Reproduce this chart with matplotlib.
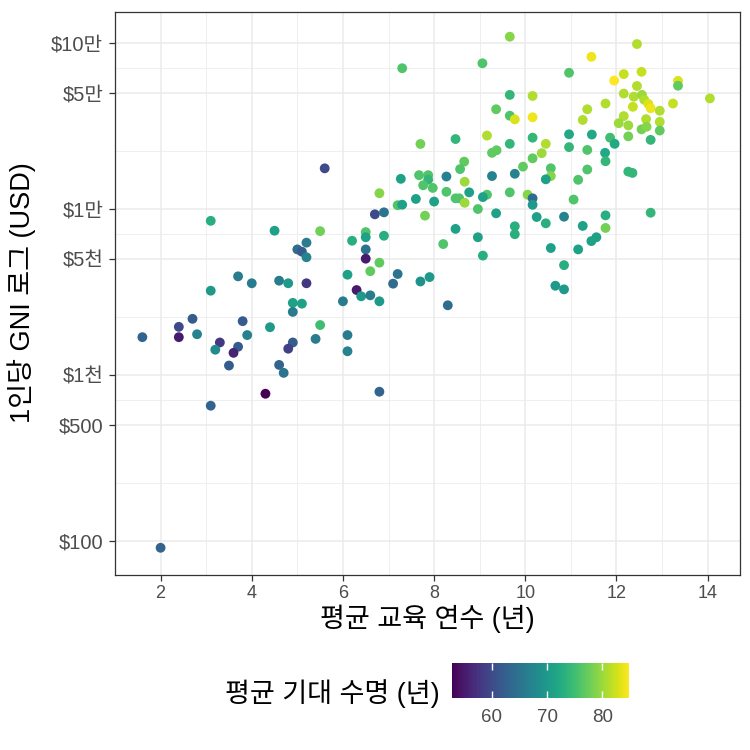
import matplotlib
matplotlib.use("Agg")
import matplotlib.pyplot as plt
import numpy as np

plt.rcParams['font.family'] = ['Liberation Sans', 'Noto Sans CJK KR']

# mean years of schooling, GNI per capita (USD), life expectancy (years)
schooling = [
    3.1, 4.5, 5.5, 5.2, 5.0, 5.1, 5.2, 6.2, 6.5, 6.5, 6.9, 6.5, 6.5, 6.8, 6.6,
    6.1, 7.2, 7.1, 7.7, 7.9, 8.3, 6.7, 6.9, 7.2, 7.3, 7.8, 8.2, 7.6, 8.0, 6.3,
    6.4, 6.6, 6.8, 6.0, 3.7, 4.0, 4.6, 4.8, 5.2, 3.1, 4.9, 5.1, 4.9, 4.4, 5.5,
    2.7, 2.4, 2.4, 1.6, 2.8, 3.8, 3.9, 3.3, 3.2, 3.7, 3.6, 3.5, 4.9, 4.8, 5.4,
    6.1, 6.1, 4.6, 4.7, 4.3, 3.1, 6.8, 2.0, 5.6, 7.3, 7.7, 6.8,
    9.66, 9.06, 12.45, 11.45, 10.96, 11.95, 12.16, 12.55, 13.35, 13.35, 12.45,
    12.16, 12.38, 12.56, 12.61, 12.70, 12.75, 12.36, 12.95, 13.24, 14.05, 11.76,
    11.36, 11.26, 12.16, 12.05, 12.26, 12.65, 12.95, 12.55, 12.66, 12.95, 12.75,
    12.26, 11.86, 11.96, 11.75, 11.76, 11.46, 10.96, 10.96, 11.36, 9.66, 10.16,
    9.36, 9.66, 9.77, 10.16, 9.16, 9.66, 10.16, 10.45, 10.36, 10.16, 9.95, 9.27,
    9.37, 8.47, 8.66, 8.57, 8.67, 8.27, 7.87, 7.67, 7.87, 7.76, 7.97, 7.27, 9.27,
    9.77, 10.56, 10.56, 10.45, 11.16, 11.36, 12.26, 12.35, 8.27, 8.77, 9.16, 9.07,
    8.47, 8.55, 8.67, 8.96, 9.66, 10.05, 10.16, 10.16, 11.06, 9.36, 10.25, 10.45,
    10.85, 11.26, 11.76, 11.76, 12.75, 8.47, 8.96, 9.77, 9.77, 9.07, 10.56, 11.16,
    11.45, 11.56, 10.85, 10.66, 10.85,
]
gni = [
    8490, 7400, 7360, 6270, 5710, 5530, 5120, 6440, 7260, 6760, 6900, 5710, 5020,
    4750, 4220, 4020, 4060, 3550, 3660, 3890, 2630, 9290, 9550, 10540, 10620,
    9120, 6150, 11500, 11090, 3250, 2980, 3020, 2780, 2780, 3930, 3570, 3700,
    3570, 3570, 3220, 2720, 2690, 2400, 1940, 2000, 2180, 1950, 1690, 1690, 1760,
    2110, 1740, 1570, 1420, 1480, 1360, 1140, 1570, 1440, 1650, 1740, 1390, 1150,
    1030, 771, 653, 793, 91, 17580, 70500, 24660, 12450,
    109200, 75500, 98600, 82600, 66200, 59400, 65000, 67100, 59200, 55300, 55100,
    49600, 47500, 48700, 45500, 43000, 40500, 41300, 39100, 43200, 46400, 43200,
    39900, 34400, 36300, 32900, 31900, 34800, 33500, 30200, 31300, 29700, 26100,
    27400, 26900, 24700, 21800, 19400, 28100, 28200, 23600, 22700, 48700, 48000,
    39900, 36500, 34700, 35700, 27700, 24700, 26900, 24700, 21700, 20200, 18000,
    21800, 22600, 26400, 19300, 17400, 14600, 15700, 16000, 16000, 15000, 13900,
    13400, 15200, 15800, 16300, 17600, 15800, 15100, 15000, 17300, 16800, 16500,
    12700, 12600, 12200, 11800, 11600, 11600, 10900, 10000, 12600, 12200, 11600,
    10600, 11400, 9420, 8950, 8200, 8990, 7910, 9160, 7690, 9500, 7590, 6760,
    7870, 7050, 5240, 5820, 5710, 6410, 6760, 4590, 3450, 3280,
]
life = [
    73, 71, 78, 66, 64, 62, 67, 73, 76, 71, 73, 65, 55, 77, 77, 71, 65, 64, 69,
    70, 64, 60, 65, 76, 71, 78, 76, 71, 71, 55, 70, 66, 70, 66, 66, 66, 66, 70,
    58, 70, 71, 71, 66, 70, 75, 62, 60, 55, 63, 67, 62, 67, 58, 68, 62, 56, 62,
    62, 59, 66, 66, 67, 63, 65, 52.8, 63, 63, 63, 60, 76, 78, 79,
    79, 76, 81, 84, 76, 84.8, 82, 82, 83, 77, 81, 81, 81, 80, 81, 83, 84, 82, 81,
    82, 81, 81, 81, 81, 81, 80, 80, 81, 81, 78, 79, 77, 74, 78, 75, 72, 72, 74,
    72, 72, 74, 76, 74, 81, 77, 76, 83, 84, 81, 74, 74, 81, 80, 77, 77, 77, 77,
    74, 77, 76, 80, 67, 76, 76, 74, 76, 76, 71, 67, 67, 76, 79, 71, 76, 76, 74,
    74, 76, 71, 76, 71, 76, 76, 80, 76, 76, 79, 64, 70, 76, 71, 71, 73, 67, 71,
    73, 78, 74, 71, 71, 73, 73, 73, 71, 71, 71, 71, 73, 70, 70,
]

x_breaks = [2, 4, 6, 8, 10, 12, 14]
y_breaks = [100, 500, 1000, 5000, 10000, 50000, 100000]
y_labels = ['\\$100', '\\$500', '\\$1천', '\\$5천', '\\$1만', '\\$5만', '\\$10만']
cbar_breaks = [60, 70, 80]

fig = plt.figure(figsize=(7.5, 7.5), dpi=100)
ax = fig.add_axes([115 / 750, 1 - 575 / 750, 625 / 750, 563 / 750])

sc = ax.scatter(schooling, gni, c=life, cmap='viridis', s=50, linewidths=0,
                vmin=min(life), vmax=max(life), zorder=3)

ax.set_yscale('log')
ax.set_xlim(1.0, 14.71)
ax.set_ylim(10 ** 1.795, 10 ** 5.187)

ax.set_xticks(x_breaks)
ax.set_xticks([3, 5, 7, 9, 11, 13], minor=True)
ax.set_yticks(y_breaks, labels=y_labels)
ax.set_yticks([np.sqrt(a * b) for a, b in zip(y_breaks[:-1], y_breaks[1:])],
              minor=True)
ax.yaxis.set_minor_formatter(matplotlib.ticker.NullFormatter())

ax.grid(which='major', color='#EBEBEB', linewidth=1.1, zorder=0)
ax.grid(which='minor', color='#EBEBEB', linewidth=0.55, zorder=0)
ax.set_axisbelow(True)

for sp in ax.spines.values():
    sp.set_color('#333333')
    sp.set_linewidth(0.9)

ax.tick_params(which='major', length=4.5, width=0.9, color='#333333',
               labelcolor='#4D4D4D')
ax.tick_params(which='minor', length=0)
ax.tick_params(axis='x', labelsize=13, pad=3)
ax.tick_params(axis='y', labelsize=14.5, pad=4)

fig.text(427 / 750, 1 - 619 / 750, '평균 교육 연수 (년)', ha='center',
         va='center', fontsize=19.5)
fig.text(22 / 750, 1 - 293 / 750, '1인당 GNI 로그 (USD)', ha='center',
         va='center', rotation=90, fontsize=19.5)

# colour bar at the bottom
cax = fig.add_axes([452 / 750, 1 - 698 / 750, 177 / 750, 35 / 750])
cb = fig.colorbar(sc, cax=cax, orientation='horizontal')
cb.outline.set_visible(False)
cb.set_ticks(cbar_breaks)
cax.tick_params(direction='in', length=5, width=1, color='white', top=True,
                bottom=True, labelsize=13.5, labelcolor='#4D4D4D', pad=8)
fig.text(440 / 750, 1 - 694 / 750, '평균 기대 수명 (년)', ha='right',
         va='center', fontsize=19.5)

fig.savefig('out.png', dpi=100)
